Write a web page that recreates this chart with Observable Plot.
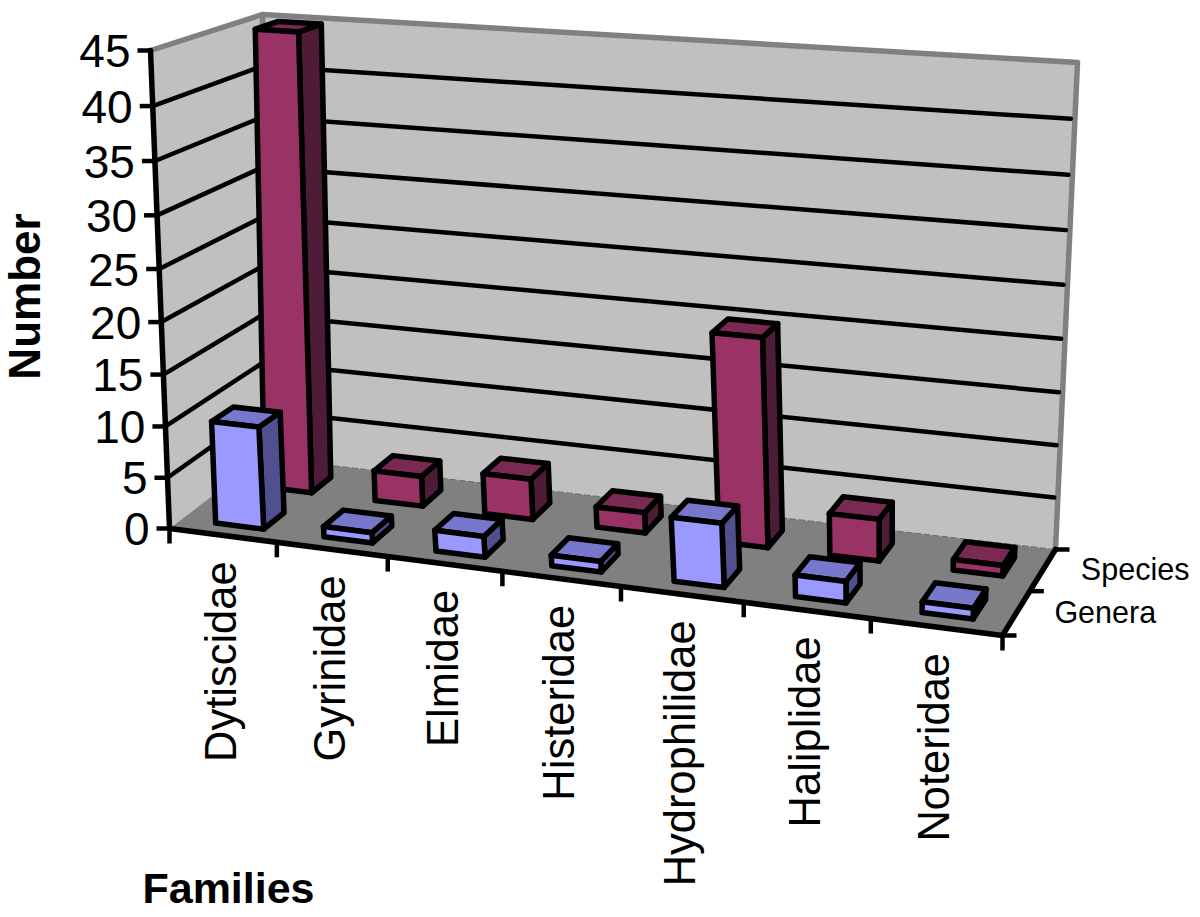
<!DOCTYPE html>
<html>
<head>
<meta charset="utf-8">
<style>html,body{margin:0;padding:0;background:#fff}svg{display:block}</style>
<script src="https://cdn.jsdelivr.net/npm/d3@7"></script>
<script src="https://cdn.jsdelivr.net/npm/@observablehq/plot@0.6"></script>
</head>
<body>
<script>
// ---- data ----
const families = ["Dytiscidae","Gyrinidae","Elmidae","Histeridae","Hydrophilidae","Haliplidae","Noteridae"];
const genera  = [10, 1, 2, 1, 6, 2, 1];
const species = [45, 3, 4, 2, 20, 4, 1];
const valueTicks = [0,5,10,15,20,25,30,35,40,45];
const seriesNames = ["Genera","Species"];

// ---- oblique view of the chart box: u along families, w in depth, v = value ----
const vMax = 45;
const vPersp = 0.05;
function homography([p0,p1,p2,p3]){
  const dx1=p1[0]-p2[0],dx2=p3[0]-p2[0],dx3=p0[0]-p1[0]+p2[0]-p3[0];
  const dy1=p1[1]-p2[1],dy2=p3[1]-p2[1],dy3=p0[1]-p1[1]+p2[1]-p3[1];
  const den=dx1*dy2-dx2*dy1;
  const g=(dx3*dy2-dx2*dy3)/den,h=(dx1*dy3-dx3*dy1)/den;
  const a=p1[0]-p0[0]+g*p1[0],b=p3[0]-p0[0]+h*p3[0],c=p0[0];
  const d=p1[1]-p0[1]+g*p1[1],e=p3[1]-p0[1]+h*p3[1],f=p0[1];
  return (u,w)=>{const k=g*u+h*w+1;return [(a*u+b*w+c)/k,(d*u+e*w+f)/k];};
}
const floorH = homography([[169,528],[1002,635],[1055,549],[262,457]]);
const ceilH  = homography([[150,50],[1028,115],[1077,62],[262,14]]);
const proj = (u,w,v)=>{
  const a=floorH(u,w),b=ceilH(u,w),s=v/vMax,t=s*(1-vPersp)/(1-vPersp*s);
  return [a[0]+(b[0]-a[0])*t,a[1]+(b[1]-a[1])*t];
};
const X=d=>proj(d.u,d.w,d.v)[0], Y=d=>proj(d.u,d.w,d.v)[1];
const poly=(id,fill,pts)=>[...pts,pts[0]].map(([u,w,v])=>({id,fill,u,w,v}));

// ---- box ----
const box=[
  ...poly("left","#C0C0C0",[[0,0,0],[0,1,0],[0,1,vMax],[0,0,vMax]]),
  ...poly("back","#C0C0C0",[[0,1,0],[1,1,0],[1,1,vMax],[0,1,vMax]]),
  ...poly("floor","#808080",[[0,0,0],[1,0,0],[1,1,0],[0,1,0]])
];
const wallEdge=[{u:0,w:0,v:vMax},{u:0,w:1,v:vMax},{u:1,w:1,v:vMax},{u:1,w:1,v:0}].map(d=>({...d,id:"top"}))
  .concat([{u:0,w:1,v:vMax},{u:0,w:1,v:vMax*0.97}].map(d=>({...d,id:"corner"})));
const floorBack=[{u:0,w:1,v:0},{u:1,w:1,v:0}];
const grid=valueTicks.filter(v=>v>0&&v<vMax).flatMap(v=>[
  {id:v,u:0,w:0,v},{id:v,u:0,w:1,v},{id:v,u:0.996,w:1,v}
]);

// ---- bars ----
const halfBar=[0.225,0.22,0.215,0.21,0.205,0.2,0.195];
const colours={
  Genera:{front:"#9999FF",top:"#7777CC",side:"#50508F"},
  Species:{front:"#993366",top:"#7A2952",side:"#4F1C38"}
};
const depthOf={Genera:[0.13,0.35],Species:[0.63,0.85]};
const barShift={
  Genera:[0.006,0.006,0.006,0.006,0.009,0.006,0.004],
  Species:[0.0094,0.0154,0.0154,0.014,0.020,0.008,0.006]
};
function bar(s,i,val){
  const n=families.length,c=(i+0.5)/n+barShift[s][i];
  const u0=c-halfBar[i]/n,u1=c+halfBar[i]/n;
  const [w0,w1]=depthOf[s],k=s+i;
  return [
    ...poly(k+"side",colours[s].side,[[u1,w0,0],[u1,w1,0],[u1,w1,val],[u1,w0,val]]),
    ...poly(k+"top",colours[s].top,[[u0,w0,val],[u1,w0,val],[u1,w1,val],[u0,w1,val]]),
    ...poly(k+"front",colours[s].front,[[u0,w0,0],[u1,w0,0],[u1,w0,val],[u0,w0,val]])
  ];
}
const bars=[
  ...species.flatMap((v,i)=>bar("Species",i,v)),
  ...genera.flatMap((v,i)=>bar("Genera",i,v))
];

// ---- axes ----
const valueAxis=valueTicks.map(v=>({u:0,w:0,v}));
const frontEnds=[{id:"front",u:0,w:0,v:0},{id:"front",u:1,w:0,v:0}];
const sideEnds=[{id:"side",u:1,w:0,v:0},{id:"side",u:1,w:1,v:0}];
const axisLeft=[{id:"left",u:0,w:0,v:0},{id:"left",u:0,w:0,v:vMax}];
const famTicks=d3.range(families.length+1).map(i=>({u:i/families.length,w:0,v:0}));
const depthTicks=[0,0.5,1].map(w=>({u:1,w,v:0}));
const famLabels=families.map((name,i)=>({name,u:(i+0.5)/families.length,w:0,v:0}));
const depthLabels=seriesNames.map((name,i)=>({name,u:1,w:0.25+i*0.5,v:0}));

const font="'Liberation Sans',Arial,sans-serif";
const chart=Plot.plot({
  width:1200,height:917,margin:0,
  style:{background:"#fff",fontFamily:font},
  x:{domain:[0,1200],range:[0,1200],axis:null},
  y:{domain:[0,917],range:[0,917],axis:null},
  marks:[
    Plot.line(box,{x:X,y:Y,z:"id",fill:"fill",stroke:"none"}),
    Plot.line(floorBack,{x:X,y:Y,stroke:"#6a6a6a",strokeWidth:1,strokeDasharray:"6,3"}),
    Plot.line(wallEdge,{x:X,y:Y,z:"id",stroke:"#808080",strokeWidth:5.5}),
    Plot.line(grid,{x:X,y:Y,z:"id",stroke:"#000",strokeWidth:4.5}),
    Plot.line(axisLeft,{x:X,y:Y,z:"id",stroke:"#000",strokeWidth:5.5}),
    Plot.line(frontEnds,{x:X,y:Y,z:"id",stroke:"#000",strokeWidth:5.5}),
    Plot.line(sideEnds,{x:X,y:Y,z:"id",stroke:"#000",strokeWidth:5.5}),
    Plot.line(bars,{x:X,y:Y,z:"id",fill:"fill",stroke:"#000",strokeWidth:5.5,strokeLinejoin:"round"}),
    Plot.link(valueAxis,{x1:d=>X(d)-13,x2:X,y1:Y,y2:Y,stroke:"#000",strokeWidth:4.5}),
    Plot.link(famTicks,{x1:X,x2:X,y1:Y,y2:d=>Y(d)+15,stroke:"#000",strokeWidth:4.5}),
    Plot.link(depthTicks,{x1:X,x2:d=>X(d)+14,y1:Y,y2:Y,stroke:"#000",strokeWidth:4.5}),
    Plot.text(valueAxis,{x:X,y:Y,text:d=>String(d.v),dx:-20,dy:2,textAnchor:"end",fontSize:46,fill:"#000"}),
    Plot.text(famLabels,{x:X,y:Y,text:"name",rotate:-90,textAnchor:"end",dx:-1,dy:26,fontSize:43.5,fill:"#000"}),
    Plot.text(depthLabels,{x:X,y:Y,text:"name",textAnchor:"start",dx:38,dy:0,fontSize:30.5,fill:"#000"}),
    Plot.text(["Number"],{x:()=>25,y:()=>296,text:d=>d,rotate:-90,fontSize:44,fontWeight:"bold",fill:"#000"}),
    Plot.text(["Families"],{x:()=>228,y:()=>889,text:d=>d,fontSize:43,fontWeight:"bold",fill:"#000"})
  ]
});
document.body.appendChild(chart);
</script>
</body>
</html>
